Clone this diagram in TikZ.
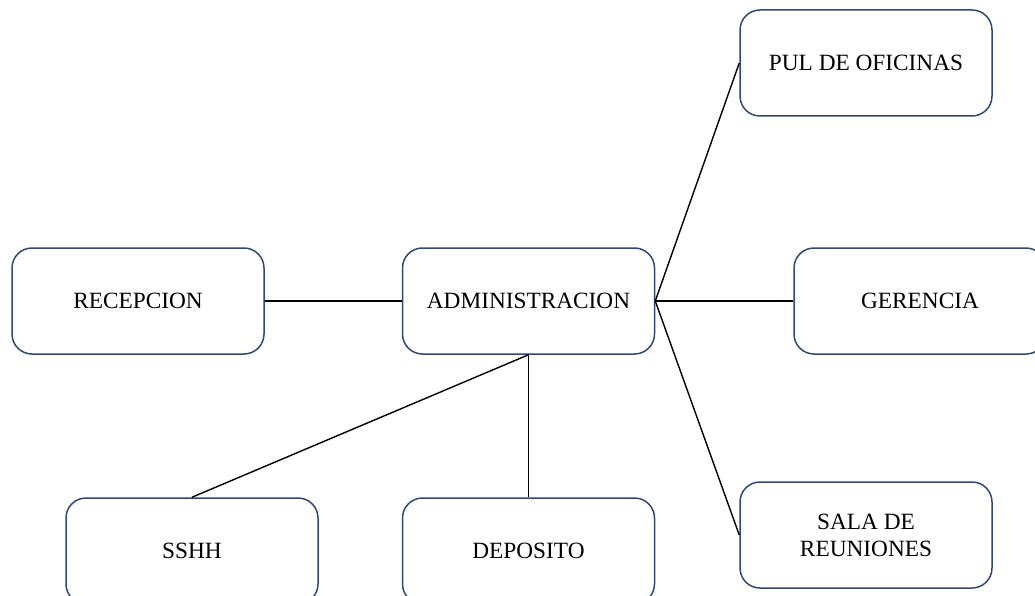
\documentclass[tikz,border=0pt]{standalone}
\usepackage{fontspec}
\setmainfont{Liberation Serif}
\definecolor{boxline}{RGB}{47,72,120}
\begin{document}
\begin{tikzpicture}[x=1pt,y=-1pt,
  box/.style={draw=boxline,line width=1.5pt,rounded corners=20pt,fill=white,
    minimum width=252pt,minimum height=106pt,inner sep=0pt,align=center,
    font=\fontsize{23.3}{27}\selectfont},
  link/.style={draw=black,line width=1.4pt}]
\useasboundingbox (0,0) rectangle (1035,596);
\clip (0,0) rectangle (1035,596);
\node[box] (rec) at (138,301) {RECEPCION};
\node[box] (adm) at (528.5,301) {ADMINISTRACION};
\node[box] (pul) at (866,63) {PUL DE OFICINAS};
\node[box] (ger) at (920,301) {GERENCIA};
\node[box] (sala) at (866,535) {SALA DE\\REUNIONES};
\node[box] (sshh) at (192,551) {SSHH};
\node[box] (dep) at (528.5,551) {DEPOSITO};
\draw[link] (rec.east) -- (adm.west);
\draw[link] (adm.east) -- (pul.west);
\draw[link] (adm.east) -- (ger.west);
\draw[link] (adm.east) -- (sala.west);
\draw[link] (adm.south) -- (sshh.north);
\draw[link] (adm.south) -- (dep.north);
\end{tikzpicture}
\end{document}
